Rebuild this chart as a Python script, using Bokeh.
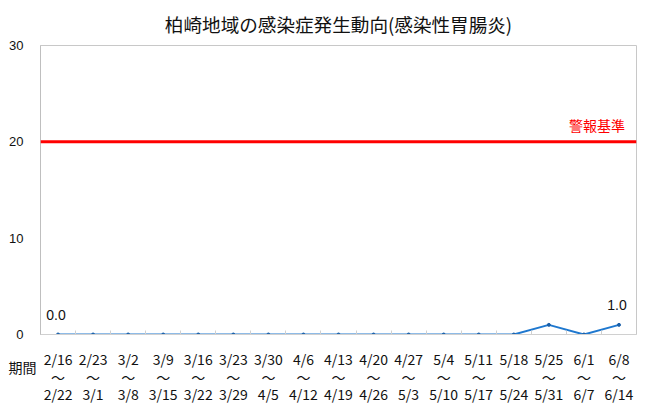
from bokeh.plotting import figure
from bokeh.models import (FixedTicker, Span, Range1d, LinearAxis, Title)
from bokeh.core.properties import value
from bokeh.embed import file_html
from bokeh.resources import INLINE

title_text = "柏崎地域の感染症発生動向(感染性胃腸炎)"
start_dates = ["2/16", "2/23", "3/2", "3/9", "3/16", "3/23", "3/30", "4/6", "4/13",
               "4/20", "4/27", "5/4", "5/11", "5/18", "5/25", "6/1", "6/8"]
end_dates = ["2/22", "3/1", "3/8", "3/15", "3/22", "3/29", "4/5", "4/12", "4/19",
             "4/26", "5/3", "5/10", "5/17", "5/24", "5/31", "6/7", "6/14"]
cases = [0, 0, 0, 0, 0, 0, 0, 0, 0, 0, 0, 0, 0, 0, 1, 0, 1]
alert_level = 20
alert_text = "警報基準"
y_ticks = [0, 10, 20, 30]
period_text = "期間"
tilde = "～"

JP = "Noto Sans CJK JP"
LAT = "Liberation Sans"
TXT = "#111111"

n = len(start_dates)
xs = list(range(n))

p = figure(width=650, height=417, x_range=Range1d(-0.5, n - 0.5), y_range=(0, 30),
           output_backend="svg", toolbar_location=None, x_axis_type=None,
           min_border_left=40, min_border_right=14, min_border_top=45, min_border_bottom=83)

p.title.text = title_text
p.title.align = "center"
p.title.vertical_align = "middle"
p.title.text_font = JP
p.title.text_font_size = "18.6px"
p.title.text_font_style = "normal"
p.title.text_color = TXT
p.title.offset = 0
p.title.standoff = 16

p.outline_line_color = "#c8c8c8"
p.outline_line_width = 1
p.xgrid.visible = False
p.ygrid.visible = False
p.background_fill_color = "white"
p.border_fill_color = "white"

p.yaxis.ticker = FixedTicker(ticks=y_ticks)
p.yaxis.axis_line_color = "#bfbfbf"
p.yaxis.major_tick_in = 0
p.yaxis.major_tick_out = 0
p.yaxis.minor_tick_line_color = None
p.yaxis.major_label_standoff = 17
p.yaxis.major_label_text_font = LAT
p.yaxis.major_label_text_font_size = "13px"
p.yaxis.major_label_text_color = TXT


def make_x_axis(labels, standoff, line_color=None):
    ax = LinearAxis(ticker=FixedTicker(ticks=xs, minor_ticks=[i + 0.5 for i in xs[:-1]]),
                    axis_line_color=line_color)
    ax.major_tick_in = 0
    ax.major_tick_out = 0
    ax.minor_tick_out = 0
    ax.minor_tick_in = 4 if line_color else 0
    ax.minor_tick_line_color = line_color
    ax.major_label_standoff = standoff
    ax.major_label_text_font = JP
    ax.major_label_text_font_size = "14px"
    ax.major_label_text_color = TXT
    ax.major_label_overrides = {i: lab for i, lab in zip(xs, labels)}
    return ax


ax1 = make_x_axis(start_dates, 14, "#d0d0d0")
ax2 = make_x_axis([tilde] * n, -5)
ax3 = make_x_axis(end_dates, -6)

period_title = Title(text=period_text, align="left", vertical_align="top",
                     offset=-32, standoff=-29,
                     text_font=JP, text_font_size="14px", text_font_style="normal",
                     text_color=TXT)

p.add_layout(ax1, "below")
p.add_layout(period_title, "below")
p.add_layout(ax2, "below")
p.add_layout(ax3, "below")

# alert level line
p.add_layout(Span(location=alert_level, dimension="width", line_color="#ff0000", line_width=3))
p.text(x=[xs[-1]], y=[alert_level], text=[alert_text],
       text_font=value(JP), text_font_size="14px", text_color="#ff0000",
       text_align="right", text_baseline="bottom", x_offset=6, y_offset=-7)

# data line
line_color = "#1f78cf"
p.line(x=xs, y=cases, line_color=line_color, line_width=2)
p.scatter(x=xs, y=cases, size=3, fill_color="#1a5fa8", line_color="#1a5fa8")

# data labels first and last
p.text(x=[xs[0], xs[-1]], y=[cases[0], cases[-1]],
       text=[f"{cases[0]:.1f}", f"{cases[-1]:.1f}"],
       text_font=value(LAT), text_font_size="14px", text_color=TXT,
       text_align="center", text_baseline="bottom", y_offset=-15, x_offset=-2)

open("out.html", "w").write(file_html(p, INLINE))
